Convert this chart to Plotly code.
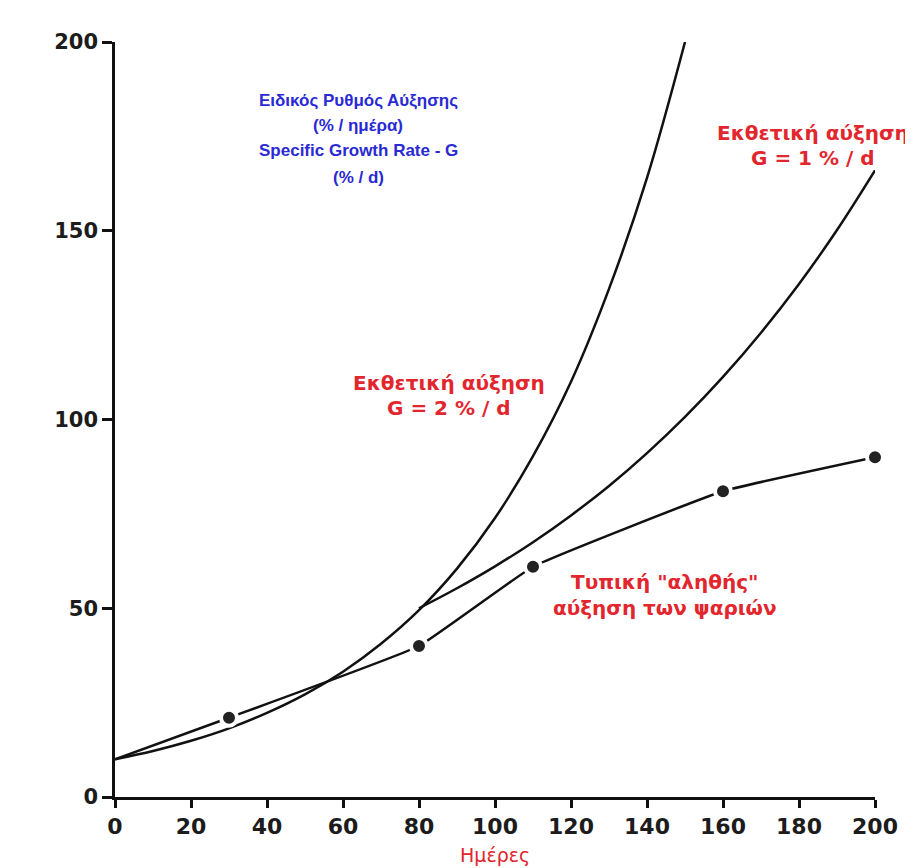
import plotly.graph_objects as go

# Exponential growth G = 2 %/d
g2_days = [0, 10, 20, 30, 40, 50, 60, 70, 80, 90, 100, 110, 120, 130, 140, 150]
g2_vals = [10, 12.2, 14.9, 18.2, 22.3, 27.2, 33.2, 40.6, 49.5, 60.5, 73.9, 90.3, 110, 134.6, 164, 200]

# Exponential growth G = 1 %/d, branching from the G=2 curve at day 80
g1_days = [80, 90, 100, 110, 120, 130, 140, 150, 160, 170, 180, 190, 200]
g1_vals = [50, 55.3, 61.1, 67.5, 74.6, 82.4, 91.1, 100.7, 111.3, 123, 135.9, 150.2, 166]

# Typical "true" fish growth
true_days = [0, 30, 80, 110, 160, 200]
true_vals = [10, 21, 40, 61, 81, 90]

x_ticks = [0, 20, 40, 60, 80, 100, 120, 140, 160, 180, 200]
y_ticks = [0, 50, 100, 150, 200]

blue_lines = ["Ειδικός Ρυθμός Αύξησης", "(% / ημέρα)", "Specific Growth Rate - G", "(% / d)"]
g1_lines = ["Εκθετική αύξηση", "G = 1 % / d"]
g2_lines = ["Εκθετική αύξηση", "G = 2 % / d"]
true_lines = ["Τυπική \"αληθής\"", "αύξηση των ψαριών"]
x_title = "Ημέρες"

FONT = "Liberation Sans, Arial, sans-serif"
WIDE = "DejaVu Sans, Verdana, sans-serif"
RED = "#e2262e"
BLUE = "#2a2ad4"

fig = go.Figure()
fig.add_trace(go.Scatter(x=g2_days, y=g2_vals, mode="lines",
                         line=dict(color="#111111", width=2.5, shape="spline"),
                         showlegend=False))
fig.add_trace(go.Scatter(x=g1_days, y=g1_vals, mode="lines",
                         line=dict(color="#111111", width=2.5, shape="spline"),
                         showlegend=False))
fig.add_trace(go.Scatter(x=true_days, y=true_vals, mode="lines",
                         line=dict(color="#111111", width=2.5, shape="spline", smoothing=0.3),
                         showlegend=False))
fig.add_trace(go.Scatter(x=true_days[1:], y=true_vals[1:], mode="markers",
                         marker=dict(color="#222222", size=16,
                                     line=dict(color="white", width=4)),
                         cliponaxis=False, showlegend=False))


def add_block(lines, x, ys, color, family, size, weight="bold", yref="y"):
    for t, y in zip(lines, ys):
        fig.add_annotation(x=x, y=y, xref="x", yref=yref, text=t,
                           showarrow=False, align="center",
                           xanchor="center", yanchor="middle",
                           font=dict(family=family, size=size, color=color,
                                     weight=weight))


add_block(blue_lines, 64, [184.6, 178.0, 171.2, 164.2], BLUE, FONT, 17)
add_block(g1_lines, 183.7, [175.9, 169.3], RED, WIDE, 20)
add_block(g2_lines, 88, [109.7, 103.0], RED, WIDE, 20)
add_block(true_lines, 144.7, [57.0, 50.1], RED, WIDE, 20)
add_block([x_title], 100, [-0.077], RED, WIDE, 19, weight="normal", yref="paper")

axis_common = dict(showline=True, linecolor="#111111", linewidth=2.5,
                   ticks="outside", tickcolor="#111111", tickwidth=2.5,
                   showgrid=False, zeroline=False)

fig.update_xaxes(range=[0, 200], tickvals=x_ticks, ticklen=8,
                 tickfont=dict(family=WIDE, size=22, color="#1c1c1c", weight="bold"),
                 **axis_common)
fig.update_yaxes(range=[0, 200], tickvals=y_ticks, ticklen=10,
                 tickfont=dict(family=WIDE, size=21, color="#1c1c1c", weight="bold"),
                 **axis_common)

fig.update_layout(width=905, height=860,
                  margin=dict(l=107, r=38, t=34, b=71),
                  paper_bgcolor="white", plot_bgcolor="white",
                  font=dict(family=FONT))

fig.write_html("out.html")
